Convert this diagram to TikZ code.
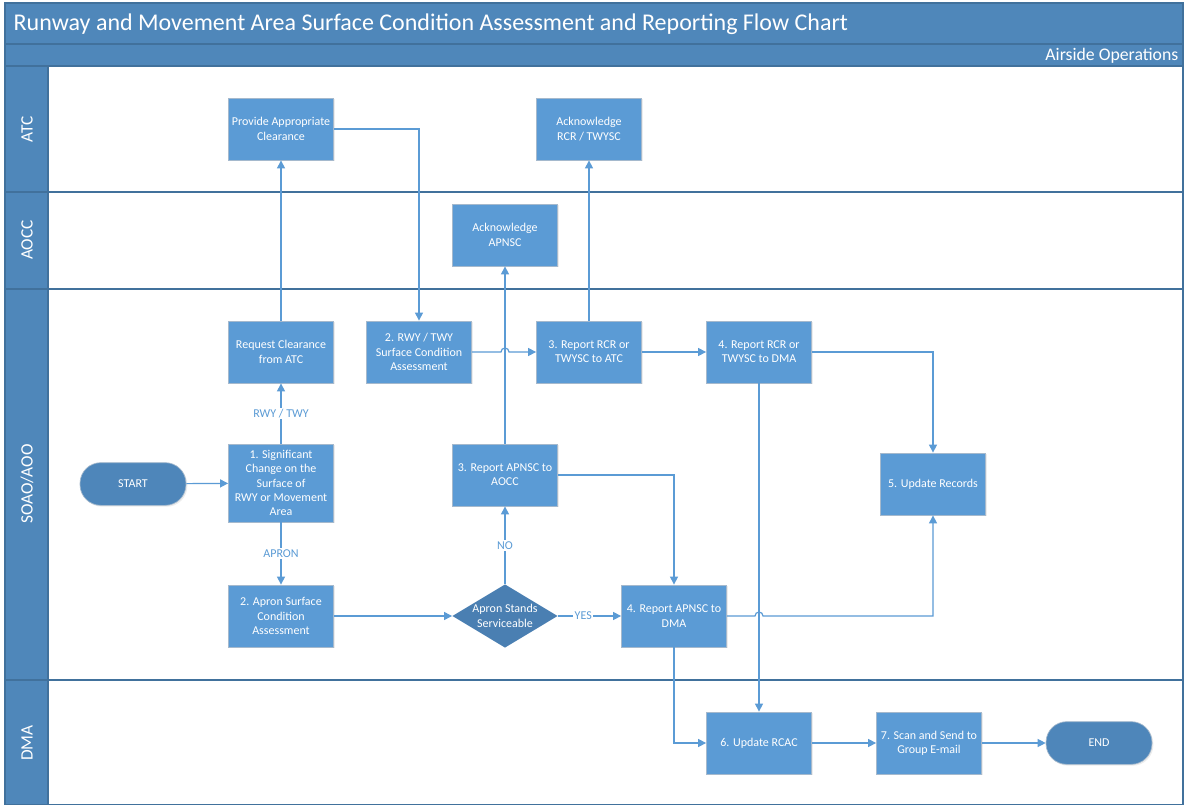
\documentclass[tikz,border=0pt]{standalone}
\usepackage{fontspec}
\setmainfont{Carlito}
\usetikzlibrary{arrows.meta,shapes.geometric,shadows}
\definecolor{hdr}{RGB}{79,135,186}
\definecolor{boxfill}{RGB}{91,155,213}
\definecolor{boxedge}{RGB}{165,185,205}
\definecolor{termfill}{RGB}{78,134,186}
\definecolor{diafill}{RGB}{74,127,178}
\definecolor{lanel}{RGB}{65,113,156}
\definecolor{conn}{RGB}{91,155,213}
\tikzset{
  x=0.75pt, y=-0.75pt,
  procbox/.style={rectangle, fill=boxfill, draw=boxedge, line width=0.6pt,
    minimum width=78.75pt, minimum height=46.5pt, inner sep=1pt,
    text=white, align=center, font=\fontsize{9}{10.7}\selectfont,
    drop shadow={opacity=0.15, shadow xshift=1pt, shadow yshift=-1pt}},
  termbox/.style={rectangle, rounded corners=15.5pt, fill=termfill, draw=boxedge, line width=0.5pt,
    minimum width=79.5pt, minimum height=32pt, text=white,
    font=\fontsize{9}{10.7}\selectfont,
    drop shadow={opacity=0.15, shadow xshift=1pt, shadow yshift=-1pt}},
  decbox/.style={diamond, aspect=1.67, fill=diafill, draw=none, inner sep=0pt,
    minimum width=79pt, minimum height=47.5pt, text=white, align=center,
    font=\fontsize{9}{10.7}\selectfont},
  flow/.style={draw=conn, line width=0.9pt, -{Triangle[length=6pt,width=6pt]}},
  flowlabel/.style={fill=white, text=conn, inner sep=1pt, font=\fontsize{9}{10}\selectfont},
  lanelabel/.style={rotate=90, text=white, font=\fontsize{13}{15}\selectfont},
}
\begin{document}
\begin{tikzpicture}
\useasboundingbox (0,0) rectangle (1187,805);
\fill[white] (0,0) rectangle (1187,805);
% frame and headers
\fill[hdr] (5,3) rectangle (1183,66);
\fill[hdr] (5,66) rectangle (48,805);
\draw[lanel, line width=0.8pt] (5,3) rectangle (1183,805);
\draw[lanel, line width=0.8pt] (5,44) -- (1183,44);
\draw[lanel, line width=0.8pt] (5,66) -- (1183,66);
\draw[lanel, line width=0.8pt] (48,66) -- (48,805);
\draw[lanel, line width=0.8pt] (5,192) -- (1183,192);
\draw[lanel, line width=0.8pt] (5,289) -- (1183,289);
\draw[lanel, line width=0.8pt] (5,680) -- (1183,680);
\node[anchor=west, text=white, font=\fontsize{18}{21}\selectfont] (title) at (9,24) {Runway and Movement Area Surface Condition Assessment and Reporting Flow Chart};
\node[anchor=east, text=white, font=\fontsize{13.3}{16}\selectfont] (dept) at (1183,56) {Airside Operations};
\node[lanelabel] (lATC) at (27,129) {ATC};
\node[lanelabel] (lAOCC) at (27,240) {AOCC};
\node[lanelabel] (lSOAO) at (27,484) {SOAO/AOO};
\node[lanelabel] (lDMA) at (27,743) {DMA};
% nodes
\node[procbox] (prov) at (281,129) {Provide Appropriate\\Clearance};
\node[procbox] (ackr) at (589,129) {Acknowledge\\RCR / TWYSC};
\node[procbox] (acka) at (505,235) {Acknowledge\\APNSC};
\node[procbox] (req) at (281,352) {Request Clearance\\from ATC};
\node[procbox] (rwy) at (419,352) {2. RWY / TWY\\Surface Condition\\Assessment};
\node[procbox] (rcratc) at (589,352) {3. Report RCR or\\TWYSC to ATC};
\node[procbox] (rcrdma) at (759,352) {4. Report RCR or\\TWYSC to DMA};
\node[termbox] (start) at (133,484) {START};
\node[procbox, minimum height=58.5pt] (sig) at (281,483) {1. Significant\\Change on the\\Surface of\\RWY or Movement\\Area};
\node[procbox] (apaocc) at (505,475) {3. Report APNSC to\\AOCC};
\node[procbox] (upd) at (933,484) {5. Update Records};
\node[procbox] (apron) at (281,616) {2. Apron Surface\\Condition\\Assessment};
\node[decbox] (dec) at (505,616) {Apron Stands\\Serviceable};
\node[procbox] (apdma) at (674,616) {4. Report APNSC to\\DMA};
\node[procbox] (rcac) at (759,743) {6. Update RCAC};
\node[procbox] (scan) at (929,743) {7. Scan and Send to\\Group E-mail};
\node[termbox] (endn) at (1099,743) {END};
% connectors
\draw[flow] (start) -- (sig);
\draw[flow] (sig) -- node[flowlabel, pos=0.5] {RWY / TWY} (req);
\draw[flow] (req) -- (prov);
\draw[flow] (prov.east) -| (rwy.north);
\draw[flow] (rwy.east) -- ([xshift=-3pt]acka.south |- rwy.east) arc[start angle=180, end angle=0, radius=3pt] -- (rcratc.west);
\draw[flow] (rcratc) -- (ackr);
\draw[flow] (rcratc) -- (rcrdma);
\draw[flow] (rcrdma.east) -| (upd.north);
\draw[flow] (rcrdma.south) -- (rcac.north);
\draw[flow] (sig) -- node[flowlabel, pos=0.5] {APRON} (apron);
\draw[flow] (apron) -- (dec);
\draw[flow] (dec) -- node[flowlabel, pos=0.5] {NO} (apaocc);
\draw[flow] (dec) -- node[flowlabel, pos=0.4] {YES} (apdma);
\draw[flow] (apaocc) -- (acka);
\draw[flow] (apaocc.east) -| (apdma.north);
\draw[flow] (apdma.east) -- ([xshift=-3pt]rcac.north |- apdma.east) arc[start angle=180, end angle=0, radius=3pt] -| (upd.south);
\draw[flow] (apdma.south) |- (rcac.west);
\draw[flow] (rcac) -- (scan);
\draw[flow] (scan) -- (endn);
\end{tikzpicture}
\end{document}
